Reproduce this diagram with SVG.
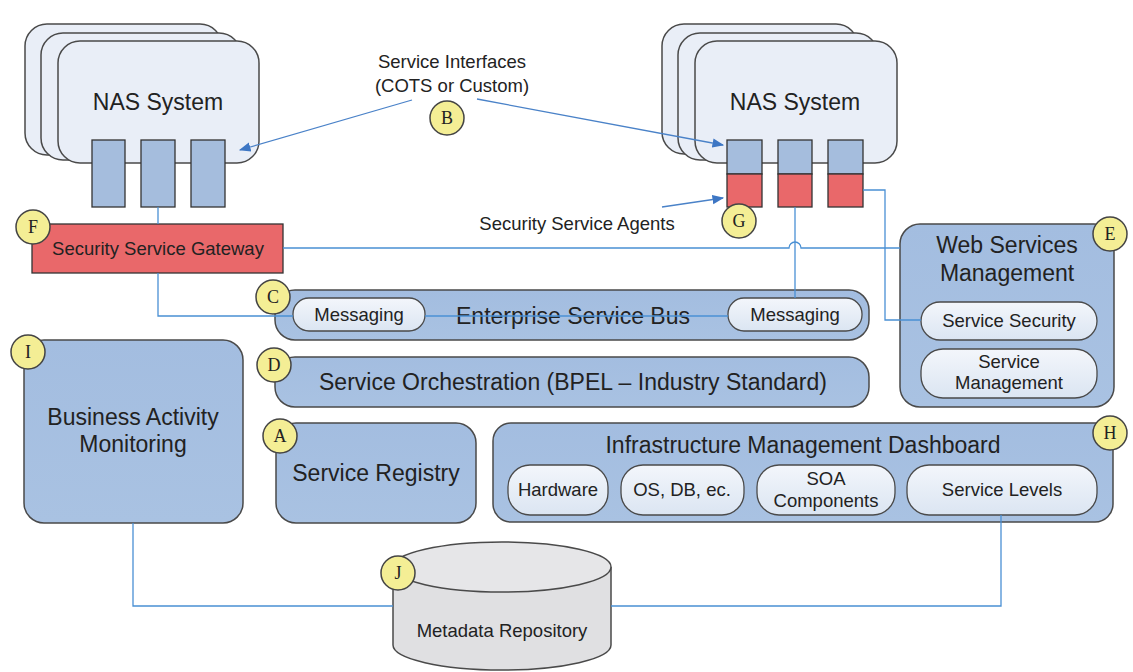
<svg xmlns="http://www.w3.org/2000/svg" width="1133" height="672" viewBox="0 0 1133 672">
<defs>
<linearGradient id="blueg" x1="0" y1="0" x2="0" y2="1"><stop offset="0" stop-color="#a3bde0"/><stop offset="1" stop-color="#a9c2e2"/></linearGradient>
<linearGradient id="pillg" x1="0" y1="0" x2="0" y2="1"><stop offset="0" stop-color="#f3f6fb"/><stop offset="1" stop-color="#dbe5f2"/></linearGradient>
<marker id="arr" viewBox="0 0 10 10" refX="9" refY="5" markerWidth="9" markerHeight="9" orient="auto"><path d="M0,1 L10,5 L0,9 z" fill="#3d76c4"/></marker>
<style>
.card{fill:#e9eef7;stroke:#4a4a4a;stroke-width:1.5}
.box{fill:url(#blueg);stroke:#4a4a4a;stroke-width:1.5}
.pill{fill:url(#pillg);stroke:#4a4a4a;stroke-width:1.3}
.port{fill:#a5bddd;stroke:#333;stroke-width:1.3}
.red{fill:#e9686a;stroke:#333;stroke-width:1.3}
.badge{fill:#f4ee95;stroke:#444;stroke-width:1.5}
.bl{font-family:"Liberation Serif",serif;font-size:18px;fill:#222;text-anchor:middle}
.t{font-family:"Liberation Sans",Arial,sans-serif;fill:#222;text-anchor:middle}
.s{font-size:18.5px}
.L{font-size:23px}
.c{fill:none;stroke:#4a90d4;stroke-width:1.3}
.a{fill:none;stroke:#4a82c8;stroke-width:1.3}
</style>
</defs>
<rect width="1133" height="672" fill="#ffffff"/>

<g id="nas-left">
<rect class="card" x="25" y="24" width="197" height="131" rx="22"/>
<rect class="card" x="41" y="33" width="200" height="127" rx="22"/>
<rect class="card" x="58" y="41" width="201" height="122" rx="22"/>
<text class="t L" x="158" y="110">NAS System</text>
<rect class="port" x="92" y="140" width="33" height="67"/>
<rect class="port" x="141" y="140" width="34" height="67"/>
<rect class="port" x="191" y="140" width="34" height="67"/>
</g>

<g id="nas-right">
<rect class="card" x="662" y="24" width="196" height="130" rx="22"/>
<rect class="card" x="678" y="33" width="200" height="127" rx="22"/>
<rect class="card" x="695" y="41" width="202" height="122" rx="22"/>
<text class="t L" x="795" y="110">NAS System</text>
<rect class="port" x="727" y="140" width="35" height="34"/>
<rect class="red" x="727" y="174" width="35" height="33"/>
<rect class="port" x="778" y="140" width="34" height="34"/>
<rect class="red" x="778" y="174" width="34" height="33"/>
<rect class="port" x="828" y="140" width="35" height="34"/>
<rect class="red" x="828" y="174" width="35" height="33"/>
</g>

<g id="service-interfaces">
<text class="t s" x="452" y="68">Service Interfaces</text>
<text class="t s" x="452" y="92">(COTS or Custom)</text>
<circle class="badge" cx="447" cy="118" r="17"/><text class="bl" x="447" y="124">B</text>
</g>

<g id="agents">
<text class="t s" x="577" y="230">Security Service Agents</text>
<circle class="badge" cx="739" cy="221" r="17"/><text class="bl" x="739" y="227">G</text>
</g>

<g id="gateway">
<rect class="red" x="32" y="224" width="251" height="49"/>
<text class="t s" x="158" y="255">Security Service Gateway</text>
<circle class="badge" cx="33" cy="227" r="17"/><text class="bl" x="33" y="233">F</text>
</g>

<g id="esb">
<rect class="box" x="275" y="290" width="594" height="50" rx="20"/>
<rect class="pill" x="293" y="298" width="132" height="33" rx="16"/>
<text class="t s" x="359" y="321">Messaging</text>
<rect class="pill" x="728" y="298" width="134" height="33" rx="16"/>
<text class="t s" x="795" y="321">Messaging</text>
<text class="t L" x="573" y="324">Enterprise Service Bus</text>
<circle class="badge" cx="273" cy="297" r="17"/><text class="bl" x="273" y="303">C</text>
</g>

<g id="orchestration">
<rect class="box" x="275" y="357" width="594" height="50" rx="20"/>
<text class="t L" x="573" y="390">Service Orchestration (BPEL – Industry Standard)</text>
<circle class="badge" cx="274" cy="365" r="17"/><text class="bl" x="274" y="371">D</text>
</g>

<g id="wsm">
<rect class="box" x="900" y="224" width="214" height="183" rx="20"/>
<text class="t L" x="1007" y="253">Web Services</text>
<text class="t L" x="1007" y="281">Management</text>
<rect class="pill" x="921" y="302" width="176" height="38" rx="19"/>
<text class="t s" x="1009" y="327">Service Security</text>
<rect class="pill" x="921" y="349" width="176" height="49" rx="22"/>
<text class="t s" x="1009" y="368">Service</text>
<text class="t s" x="1009" y="389">Management</text>
<circle class="badge" cx="1110" cy="234" r="17"/><text class="bl" x="1110" y="240">E</text>
</g>

<g id="bam">
<rect class="box" x="24" y="340" width="219" height="183" rx="20"/>
<text class="t L" x="133" y="425">Business Activity</text>
<text class="t L" x="133" y="452">Monitoring</text>
<circle class="badge" cx="28" cy="352" r="17"/><text class="bl" x="28" y="358">I</text>
</g>

<g id="registry">
<rect class="box" x="276" y="423" width="200" height="100" rx="20"/>
<text class="t L" x="376" y="481">Service Registry</text>
<circle class="badge" cx="280" cy="436" r="17"/><text class="bl" x="280" y="442">A</text>
</g>

<g id="imd">
<rect class="box" x="493" y="423" width="620" height="99" rx="18"/>
<text class="t L" x="803" y="453">Infrastructure Management Dashboard</text>
<rect class="pill" x="508" y="465" width="100" height="50" rx="22"/>
<text class="t s" x="558" y="496">Hardware</text>
<rect class="pill" x="621" y="465" width="123" height="50" rx="22"/>
<text class="t s" x="682" y="496">OS, DB, ec.</text>
<rect class="pill" x="757" y="465" width="138" height="50" rx="22"/>
<text class="t s" x="826" y="485">SOA</text>
<text class="t s" x="826" y="507">Components</text>
<rect class="pill" x="907" y="465" width="190" height="50" rx="22"/>
<text class="t s" x="1002" y="496">Service Levels</text>
<circle class="badge" cx="1110" cy="433" r="17"/><text class="bl" x="1110" y="439">H</text>
</g>

<g id="metadata">
<path d="M393,567 V645 A109,25 0 0 0 611,645 V567" fill="#e0e0e2" stroke="#4a4a4a" stroke-width="1.5"/>
<ellipse cx="502" cy="567" rx="109" ry="25" fill="#e6e6e8" stroke="#4a4a4a" stroke-width="1.5"/>
<text class="t s" x="502" y="637">Metadata Repository</text>
<circle class="badge" cx="398" cy="573" r="17"/><text class="bl" x="398" y="579">J</text>
</g>

<g id="connectors">
<path class="a" d="M412,100 L240,150" marker-end="url(#arr)"/>
<path class="a" d="M477,99 L723,145" marker-end="url(#arr)"/>
<path class="a" d="M662,207 L723,198" marker-end="url(#arr)"/>
<path class="c" d="M158,207 V224"/>
<path class="c" d="M158,273 V316 H293"/>
<path class="c" d="M425,316 H728"/>
<path class="c" d="M283,248 H789 A6,6 0 0 1 801,248 H900"/>
<path class="c" d="M795,207 V298"/>
<path class="c" d="M863,190 H885 V320 H921"/>
<path class="c" d="M133,523 V606 H393"/>
<path class="c" d="M1001,515 V606 H611"/>
</g>
</svg>
